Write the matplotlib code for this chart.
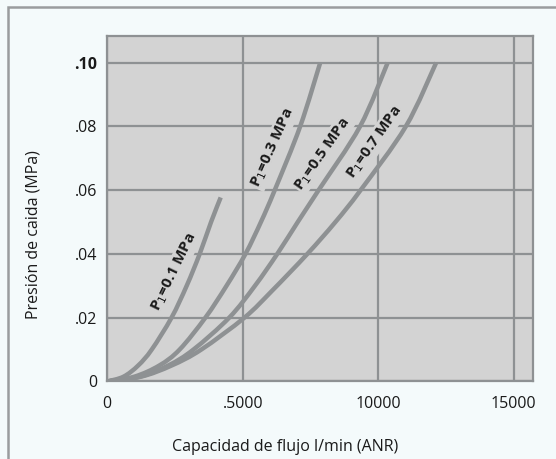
import matplotlib
matplotlib.use("Agg")
import numpy as np
import matplotlib.pyplot as plt
from matplotlib.patches import Rectangle, PathPatch
from matplotlib.path import Path

plt.rcParams['font.family'] = ['Open Sans', 'DejaVu Sans']

# Curvas: caudal (l/min) y presión de caída (MPa)
p01_x = [0, 600, 1140, 1640, 2370, 2930, 3410, 3830, 4185]
p01_y = [0, 0.0015, 0.005, 0.010, 0.020, 0.030, 0.040, 0.050, 0.0577]

p03_x = [0, 1000, 1920, 2670, 3620, 4400, 5100, 5670, 6180, 7120, 7860]
p03_y = [0, 0.0015, 0.005, 0.010, 0.020, 0.030, 0.040, 0.050, 0.060, 0.080, 0.100]

p05_x = [0, 1200, 2250, 3180, 4500, 5450, 6274, 7030, 7800, 9330, 10350]
p05_y = [0, 0.0015, 0.005, 0.010, 0.020, 0.030, 0.040, 0.050, 0.060, 0.080, 0.100]

p07_x = [0, 1250, 2375, 3470, 5060, 6089, 7385, 8420, 9350, 11020, 12140]
p07_y = [0, 0.0015, 0.005, 0.010, 0.020, 0.0285, 0.040, 0.050, 0.060, 0.080, 0.100]

labels = ["P$_1$=0.1 MPa", "P$_1$=0.3 MPa", "P$_1$=0.5 MPa", "P$_1$=0.7 MPa"]
label_pos = [(2470, 0.0342), (6111, 0.0733), (7963, 0.0714), (9878, 0.0750)]
label_rot = [64, 66, 55, 55]

x_ticks = [0, 5000, 10000, 15000]
x_ticklabels = ["0", ".5000", "10000", "15000"]
y_ticks = [0, 0.02, 0.04, 0.06, 0.08, 0.10]
y_ticklabels = ["0", ".02", ".04", ".06", ".08", ".10"]

gray = "#8e9193"
bg = "#f4fafb"
face = "#d3d3d3"


# curva suave (Catmull-Rom como Bézier cúbicas) que pasa por los puntos leídos
def smooth_path(xs, ys):
    pts = np.column_stack([xs, ys]).astype(float)
    ext = np.vstack([pts[0], pts, pts[-1]])
    verts = [pts[0]]
    codes = [Path.MOVETO]
    for i in range(1, len(ext) - 2):
        p0, p1, p2, p3 = ext[i - 1], ext[i], ext[i + 1], ext[i + 2]
        verts += [p1 + (p2 - p0) / 6, p2 - (p3 - p1) / 6, p2]
        codes += [Path.CURVE4] * 3
    return Path(verts, codes)


fig = plt.figure(figsize=(5.56, 4.59), dpi=100, facecolor=bg)
ax = fig.add_axes([0.193, 0.169, 0.765, 0.753], facecolor=face)

# marco exterior
fig.patches.append(Rectangle((8 / 556, -0.1), 1.1, 1 - 6.7 / 459 + 0.1,
                             transform=fig.transFigure, fill=False,
                             edgecolor="#9a9c9e", linewidth=1.8))

for xs, ys in [(p01_x, p01_y), (p03_x, p03_y), (p05_x, p05_y), (p07_x, p07_y)]:
    ax.add_patch(PathPatch(smooth_path(xs, ys), facecolor="none", edgecolor=gray,
                           linewidth=3.2, capstyle="butt", zorder=4))

for text, (lx, ly), rot in zip(labels, label_pos, label_rot):
    ax.text(lx, ly, text, rotation=rot, rotation_mode="anchor", ha="center", va="center",
            fontsize=11, fontweight="bold", color="#1a1a1a", zorder=3,
            bbox=dict(boxstyle="square,pad=0.1", facecolor=face, edgecolor="none"))

ax.set_xlim(0, 15700)
ax.set_ylim(0, 0.1084)
ax.set_xticks(x_ticks)
ax.set_xticklabels(x_ticklabels)
ax.set_yticks(y_ticks)
ax.set_yticklabels(y_ticklabels)
ax.get_yticklabels()[-1].set_fontweight("bold")
ax.tick_params(length=0, labelsize=11.5, colors="#1a1a1a")
ax.tick_params(axis="x", pad=10.5)
ax.tick_params(axis="y", pad=7)
ax.grid(True, color=gray, linewidth=1.6, zorder=1)
ax.set_axisbelow(True)
for s in ax.spines.values():
    s.set_color(gray)
    s.set_linewidth(1.6)

ax.set_xlabel("Capacidad de flujo l/min (ANR)", fontsize=11.5, color="#1a1a1a")
ax.set_ylabel("Presión de caida (MPa)", fontsize=11.5, color="#1a1a1a")
ax.xaxis.set_label_coords(0.418, -0.166)
ax.yaxis.set_label_coords(-0.155, 0.424)

fig.savefig("out.png", dpi=100, facecolor=bg)
